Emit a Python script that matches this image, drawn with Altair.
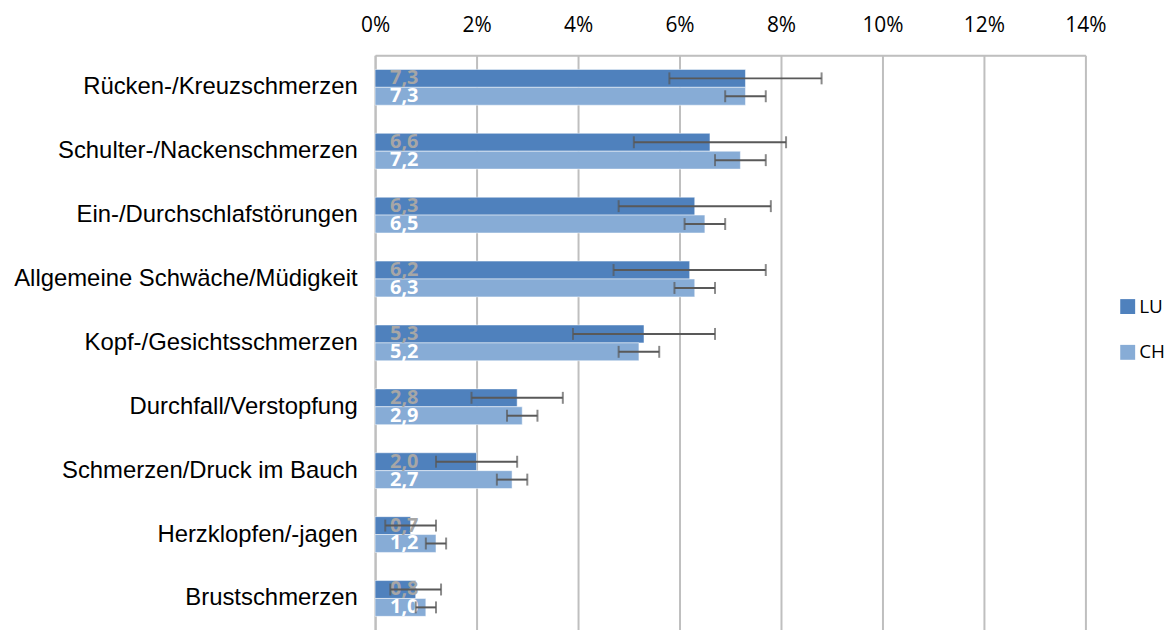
import altair as alt
import pandas as pd

categories = [
    "Rücken-/Kreuzschmerzen",
    "Schulter-/Nackenschmerzen",
    "Ein-/Durchschlafstörungen",
    "Allgemeine Schwäche/Müdigkeit",
    "Kopf-/Gesichtsschmerzen",
    "Durchfall/Verstopfung",
    "Schmerzen/Druck im Bauch",
    "Herzklopfen/-jagen",
    "Brustschmerzen",
]
series = ["LU", "CH"]
lu_values = [7.3, 6.6, 6.3, 6.2, 5.3, 2.8, 2.0, 0.7, 0.8]
ch_values = [7.3, 7.2, 6.5, 6.3, 5.2, 2.9, 2.7, 1.2, 1.0]
lu_low = [5.8, 5.1, 4.8, 4.7, 3.9, 1.9, 1.2, 0.2, 0.3]
lu_high = [8.8, 8.1, 7.8, 7.7, 6.7, 3.7, 2.8, 1.2, 1.3]
ch_low = [6.9, 6.7, 6.1, 5.9, 4.8, 2.6, 2.4, 1.0, 0.8]
ch_high = [7.7, 7.7, 6.9, 6.7, 5.6, 3.2, 3.0, 1.4, 1.2]
x_ticks = [0, 2, 4, 6, 8, 10, 12, 14]

rows = []
for i, c in enumerate(categories):
    rows.append({"cat": c, "series": "LU", "value": lu_values[i], "lo": lu_low[i], "hi": lu_high[i],
                 "label": f"{lu_values[i]:.1f}".replace(".", ",")})
    rows.append({"cat": c, "series": "CH", "value": ch_values[i], "lo": ch_low[i], "hi": ch_high[i],
                 "label": f"{ch_values[i]:.1f}".replace(".", ",")})
df = pd.DataFrame(rows)

colors = ["#4f81bd", "#87acd6"]

y_enc = alt.Y("cat:N", sort=categories,
              scale=alt.Scale(paddingInner=0.44, paddingOuter=0.22),
              axis=alt.Axis(title=None, labelFont="Liberation Sans", labelFontSize=24,
                            labelColor="#000000", labelPadding=18, ticks=False,
                            domainColor="#bfbfbf", domainWidth=2, labelLimit=400))
yoff = alt.YOffset("series:N", sort=series)
x_scale = alt.Scale(domain=[0, 14], nice=False)

base = alt.Chart(df)

bars = base.mark_bar(stroke="white", strokeWidth=0.5).encode(
    x=alt.X("value:Q", scale=x_scale,
            axis=alt.Axis(orient="top", title=None, values=x_ticks, labelExpr="datum.value + '%'",
                          labelFont="Open Sans", labelFontSize=21, labelColor="#000000",
                          labelPadding=20, labelFlush=False, ticks=False, grid=True,
                          gridColor="#bfbfbf", gridWidth=2, domainColor="#bfbfbf", domainWidth=2)),
    y=y_enc,
    yOffset=yoff,
    color=alt.Color("series:N", sort=series, scale=alt.Scale(domain=series, range=colors),
                    legend=alt.Legend(title=None, orient="none", legendX=747, legendY=243,
                                      symbolType="square", symbolSize=225, symbolStrokeWidth=0,
                                      labelFont="Open Sans", labelFontSize=19, labelColor="#000000",
                                      rowPadding=26, labelOffset=2)),
)

err = base.mark_rule(color="#595959", strokeWidth=2).encode(
    x=alt.X("lo:Q", scale=x_scale), x2="hi:Q", y=y_enc, yOffset=yoff)
cap_lo = base.mark_tick(color="#595959", thickness=2, size=12).encode(
    x=alt.X("lo:Q", scale=x_scale), y=y_enc, yOffset=yoff)
cap_hi = base.mark_tick(color="#595959", thickness=2, size=12).encode(
    x=alt.X("hi:Q", scale=x_scale), y=y_enc, yOffset=yoff)

lbl_lu = base.transform_filter(alt.datum.series == "LU").mark_text(
    align="left", baseline="middle", dx=15, font="Open Sans", fontWeight="bold",
    fontSize=20, color="#a6a6a6").encode(
    x=alt.datum(0), y=y_enc, yOffset=yoff, text="label:N")
lbl_ch = base.transform_filter(alt.datum.series == "CH").mark_text(
    align="left", baseline="middle", dx=15, font="Open Sans", fontWeight="bold",
    fontSize=20, color="#ffffff").encode(
    x=alt.datum(0), y=y_enc, yOffset=yoff, text="label:N")

chart = alt.layer(bars, lbl_lu, lbl_ch, err, cap_lo, cap_hi).properties(
    width=714, height=578,
    autosize=alt.AutoSizeParams(type="none"),
    padding={"left": 369, "top": 46, "right": 80, "bottom": 0},
).configure_view(stroke=None).configure(background="white")

chart.save("out.html", embed_options={"renderer": "svg", "actions": False})
